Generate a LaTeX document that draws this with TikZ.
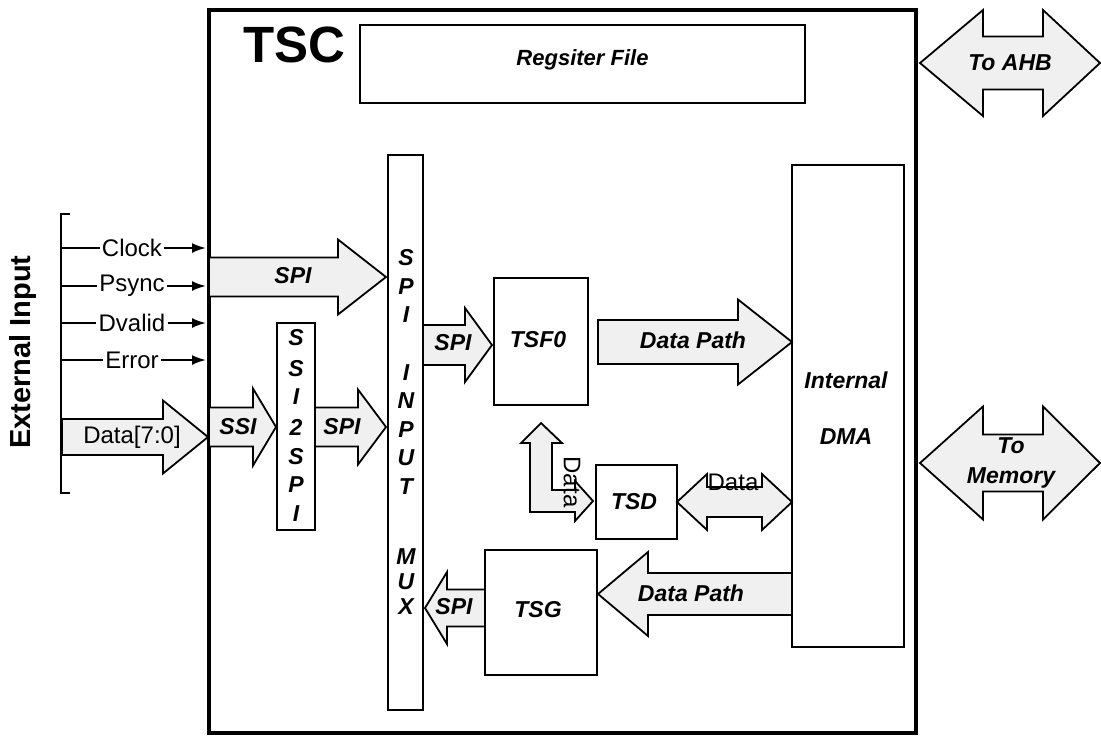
\documentclass[tikz,border=0pt]{standalone}
\usepackage{fontspec}
\setmainfont{Liberation Sans}
\usepackage{tikz}
\usetikzlibrary{arrows.meta,positioning,calc}

% block arrow: tail x, tip x, centre y, half shaft, half head, head base x
\newcommand{\blockarrow}[6]{%
  \draw[barrow] (#1,#3-#4) -- (#6,#3-#4) -- (#6,#3-#5) -- (#2,#3)
    -- (#6,#3+#5) -- (#6,#3+#4) -- (#1,#3+#4) -- cycle;}
% double block arrow: left tip, right tip, centre y, half shaft, half head, left base, right base
\newcommand{\dblarrow}[7]{%
  \draw[barrow] (#1,#3) -- (#6,#3-#5) -- (#6,#3-#4) -- (#7,#3-#4) -- (#7,#3-#5)
    -- (#2,#3) -- (#7,#3+#5) -- (#7,#3+#4) -- (#6,#3+#4) -- (#6,#3+#5) -- cycle;}

\begin{document}
\begin{tikzpicture}[x=0.5pt, y=-0.5pt,
    blk/.style={draw, line width=1.4pt, inner sep=0pt},
    barrow/.style={draw, line width=0.9pt, fill=black!6, line join=miter},
    lbl/.style={font=\bfseries\itshape\fontsize{11.5}{14}\selectfont, inner sep=1pt},
    sig/.style={font=\fontsize{12}{14}\selectfont, inner sep=1pt},
    sigline/.style={line width=1pt}]
    \useasboundingbox (0,0) rectangle (1101,736);

    % outer block
    \node[draw, line width=2.2pt, minimum width=353.5pt, minimum height=361.5pt] (tscbox) at (562.5,371.5) {};
    \node[font=\bfseries\fontsize{25.5}{28}\selectfont] (tsc) at (294,45) {TSC};
    \node[blk, minimum width=222.5pt, minimum height=39pt] (regfile) at (582.5,64) {};
    \node[lbl, font=\bfseries\itshape\fontsize{11}{13}\selectfont] (regtxt) at (582.5,60) {Regsiter File};

    % inner blocks
    \node[blk, minimum width=17.5pt, minimum height=277.5pt] (mux) at (405.5,432.5) {};
    \node[blk, minimum width=19pt, minimum height=103.5pt] (ssi) at (296,426.5) {};
    \node[blk, minimum width=47pt, minimum height=63.5pt] (tsf) at (541,341.5) {};
    \node[blk, minimum width=40.5pt, minimum height=37pt] (tsd) at (636.5,502) {};
    \node[blk, minimum width=56pt, minimum height=62.5pt] (tsg) at (541,612.5) {};
    \node[blk, minimum width=56pt, minimum height=241pt] (dma) at (848,406) {};

    \foreach \ch/\y [count=\i] in {S/258, P/287, I/315, I/373, N/401, P/430, U/458, T/487, M/557, U/582, X/607}
      \node[lbl] (mux\i) at (406,\y) {\ch};
    \foreach \ch/\y [count=\i] in {S/338, S/369, I/397, 2/427, S/457, P/485, I/514}
      \node[lbl] (ssi\i) at (296,\y) {\ch};

    \node[lbl] (tsftxt) at (538,340) {TSF0};
    \node[lbl] (tsdtxt) at (634,502) {TSD};
    \node[lbl] (tsgtxt) at (538,610) {TSG};
    \node[lbl] (dmatxt1) at (846,380) {Internal};
    \node[lbl] (dmatxt2) at (846,437) {DMA};

    % block arrows
    \blockarrow{209}{386}{277}{19.5}{37.5}{338}
    \blockarrow{209}{276}{427}{19.5}{38.5}{253}
    \blockarrow{315}{386}{427}{19.5}{37.5}{358}
    \blockarrow{62}{208}{437}{18}{36.5}{163}
    \blockarrow{423}{492}{345}{20}{37}{465}
    \blockarrow{598}{792}{342}{22}{42.5}{738}
    \blockarrow{792}{598}{594}{21}{42}{648}
    \blockarrow{485}{425}{608}{18.5}{36}{447}
    \dblarrow{677}{792}{502}{15}{28}{707}{762}
    \dblarrow{920}{1100}{63}{26.5}{53}{983}{1043}
    \dblarrow{920}{1100}{463}{28.5}{56.5}{983}{1043}
    \draw[barrow] (530,443) -- (521,443) -- (541,423) -- (562,443) -- (552,443) -- (552,490)
      -- (575,490) -- (575,481) -- (593,501) -- (575,521) -- (575,512) -- (530,512) -- cycle;

    \node[lbl] (spi1) at (293,276) {SPI};
    \node[lbl] (ssitxt) at (238,427) {SSI};
    \node[lbl] (spi2) at (342,427) {SPI};
    \node[sig] (data) at (132,437) {Data[7:0]};
    \node[lbl] (spi3) at (453,343) {SPI};
    \node[lbl] (spi4) at (454,607) {SPI};
    \node[lbl] (path1) at (693,340) {Data Path};
    \node[lbl] (path2) at (691,593) {Data Path};
    \node[sig] (tsddata) at (733,482) {Data};
    \node[sig, rotate=-90] (tsfdata) at (572,482) {Data};
    \node[lbl] (ahb) at (1010,63) {To AHB};
    \node[lbl, align=center, font=\bfseries\itshape\fontsize{11.5}{15}\selectfont] (mem) at (1011,463) {To\\Memory};

    % external input
    \node[font=\bfseries\fontsize{14.5}{16}\selectfont, rotate=90] (ext) at (23,352) {External Input};
    \draw[line width=0.6pt] (70,214) -- (61,214) -- (61,493) -- (70,493);
    \foreach \name/\y in {Clock/248, Psync/286, Dvalid/323, Error/360} {
      \node[sig] (\name) at (132,\y) {\name};
      \coordinate (\name-in) at (62,\y);
      \coordinate (\name-out) at (206,\y);
      \draw[sigline] (\name-in) -- (\name.west);
      \draw[sigline, -{Latex[length=7pt, width=5pt]}] (\name.east) -- (\name-out);
    }
\end{tikzpicture}
\end{document}
